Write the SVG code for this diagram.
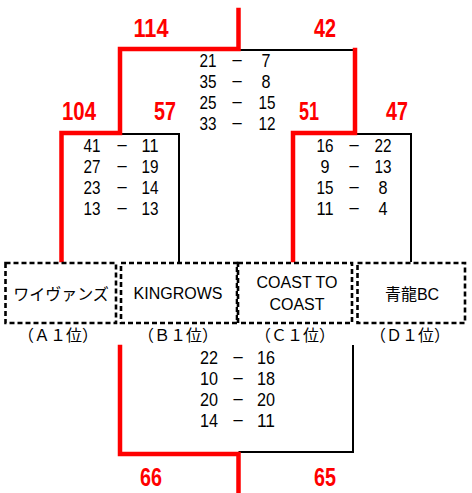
<svg xmlns="http://www.w3.org/2000/svg" width="472" height="493" viewBox="0 0 472 493">
<style>
.red{fill:none;stroke:#ff0000;stroke-width:4.5;stroke-linecap:square}
.blk{fill:none;stroke:#000;stroke-width:2}
.box{fill:#fff;stroke:#000;stroke-width:2.6;stroke-dasharray:5 3}
.sc{font-family:"Liberation Sans",Arial,sans-serif;font-size:19px;fill:#000;text-anchor:middle}
.rn{font-family:"Liberation Sans",Arial,sans-serif;font-weight:bold;font-size:26px;fill:#ff0000;text-anchor:middle}
.nm{font-family:"Liberation Sans","Noto Sans CJK JP",sans-serif;font-size:16px;fill:#000;text-anchor:middle}
.lb{font-family:"Noto Sans CJK JP",sans-serif;font-size:16px;fill:#000;text-anchor:middle}
</style>
<rect width="472" height="493" fill="#fff"/>
<g id="connectors">
<path class="blk" d="M238.5,50 H355"/>
<path class="blk" d="M120,134 H179 V262"/>
<path class="blk" d="M355,134 H411 V262"/>
<path class="blk" d="M353,345 V452 H238.5"/>
<path class="red" d="M238.5,10 V49 H120 V133 H61.5 V260"/>
<path class="red" d="M355,50 V133 H293 V260"/>
<path class="red" d="M120,347 V454 H238.5 V493"/>
</g>
<g id="scores">
<g id="score-final-top">
<text class="sc" x="208" y="67" textLength="17" lengthAdjust="spacingAndGlyphs">21</text><text class="sc" x="237" y="67">−</text><text class="sc" x="266" y="67" textLength="9" lengthAdjust="spacingAndGlyphs">7</text>
<text class="sc" x="208" y="88" textLength="17" lengthAdjust="spacingAndGlyphs">35</text><text class="sc" x="237" y="88">−</text><text class="sc" x="266" y="88" textLength="9" lengthAdjust="spacingAndGlyphs">8</text>
<text class="sc" x="208" y="109" textLength="17" lengthAdjust="spacingAndGlyphs">25</text><text class="sc" x="237" y="109">−</text><text class="sc" x="267" y="109" textLength="17" lengthAdjust="spacingAndGlyphs">15</text>
<text class="sc" x="208" y="130" textLength="17" lengthAdjust="spacingAndGlyphs">33</text><text class="sc" x="237" y="130">−</text><text class="sc" x="267" y="130" textLength="17" lengthAdjust="spacingAndGlyphs">12</text>
</g>
<g id="score-left">
<text class="sc" x="92" y="152" textLength="17" lengthAdjust="spacingAndGlyphs">41</text><text class="sc" x="122" y="152">−</text><text class="sc" x="150" y="152" textLength="17" lengthAdjust="spacingAndGlyphs">11</text>
<text class="sc" x="92" y="173" textLength="17" lengthAdjust="spacingAndGlyphs">27</text><text class="sc" x="122" y="173">−</text><text class="sc" x="150" y="173" textLength="17" lengthAdjust="spacingAndGlyphs">19</text>
<text class="sc" x="92" y="194" textLength="17" lengthAdjust="spacingAndGlyphs">23</text><text class="sc" x="122" y="194">−</text><text class="sc" x="150" y="194" textLength="17" lengthAdjust="spacingAndGlyphs">14</text>
<text class="sc" x="92" y="215" textLength="17" lengthAdjust="spacingAndGlyphs">13</text><text class="sc" x="122" y="215">−</text><text class="sc" x="150" y="215" textLength="17" lengthAdjust="spacingAndGlyphs">13</text>
</g>
<g id="score-right">
<text class="sc" x="325" y="152" textLength="17" lengthAdjust="spacingAndGlyphs">16</text><text class="sc" x="354" y="152">−</text><text class="sc" x="383" y="152" textLength="17" lengthAdjust="spacingAndGlyphs">22</text>
<text class="sc" x="325" y="173" textLength="9" lengthAdjust="spacingAndGlyphs">9</text><text class="sc" x="354" y="173">−</text><text class="sc" x="383" y="173" textLength="17" lengthAdjust="spacingAndGlyphs">13</text>
<text class="sc" x="325" y="194" textLength="17" lengthAdjust="spacingAndGlyphs">15</text><text class="sc" x="354" y="194">−</text><text class="sc" x="383" y="194" textLength="9" lengthAdjust="spacingAndGlyphs">8</text>
<text class="sc" x="325" y="215" textLength="17" lengthAdjust="spacingAndGlyphs">11</text><text class="sc" x="354" y="215">−</text><text class="sc" x="383" y="215" textLength="9" lengthAdjust="spacingAndGlyphs">4</text>
</g>
<g id="score-bottom">
<text class="sc" x="209" y="364" textLength="18" lengthAdjust="spacingAndGlyphs">22</text><text class="sc" x="238" y="364">−</text><text class="sc" x="266" y="364" textLength="18" lengthAdjust="spacingAndGlyphs">16</text>
<text class="sc" x="209" y="385" textLength="18" lengthAdjust="spacingAndGlyphs">10</text><text class="sc" x="238" y="385">−</text><text class="sc" x="266" y="385" textLength="18" lengthAdjust="spacingAndGlyphs">18</text>
<text class="sc" x="209" y="406" textLength="18" lengthAdjust="spacingAndGlyphs">20</text><text class="sc" x="238" y="406">−</text><text class="sc" x="266" y="406" textLength="18" lengthAdjust="spacingAndGlyphs">20</text>
<text class="sc" x="209" y="427" textLength="18" lengthAdjust="spacingAndGlyphs">14</text><text class="sc" x="238" y="427">−</text><text class="sc" x="266" y="427" textLength="18" lengthAdjust="spacingAndGlyphs">11</text>
</g>
</g>
<g id="totals">
<text class="rn" x="151" y="37" textLength="35" lengthAdjust="spacingAndGlyphs">114</text>
<text class="rn" x="325" y="37" textLength="22" lengthAdjust="spacingAndGlyphs">42</text>
<text class="rn" x="79" y="120" textLength="34" lengthAdjust="spacingAndGlyphs">104</text>
<text class="rn" x="165" y="120" textLength="22" lengthAdjust="spacingAndGlyphs">57</text>
<text class="rn" x="309" y="120" textLength="20" lengthAdjust="spacingAndGlyphs">51</text>
<text class="rn" x="397" y="120" textLength="22" lengthAdjust="spacingAndGlyphs">47</text>
<text class="rn" x="151" y="486" textLength="22" lengthAdjust="spacingAndGlyphs">66</text>
<text class="rn" x="325" y="486" textLength="22" lengthAdjust="spacingAndGlyphs">65</text>
</g>
<g id="team-a">
<rect class="box" x="5.5" y="263" width="110.5" height="60"/>
<text class="nm" x="61" y="300" font-family="Noto Sans CJK JP">ワイヴァンズ</text>
<text class="lb" x="58" y="341">（Ａ１位）</text>
</g>
<g id="team-b">
<rect class="box" x="121" y="263" width="116" height="60"/>
<text class="nm" x="178" y="299">KINGROWS</text>
<text class="lb" x="178" y="341">（Ｂ１位）</text>
</g>
<g id="team-c">
<rect class="box" x="238" y="263" width="114" height="60"/>
<text class="nm" x="297" y="288">COAST TO</text>
<text class="nm" x="297" y="310">COAST</text>
<text class="lb" x="295" y="341">（Ｃ１位）</text>
</g>
<g id="team-d">
<rect class="box" x="357.5" y="263" width="107.5" height="60"/>
<text class="nm" x="412" y="300">青龍BC</text>
<text class="lb" x="410" y="341">（Ｄ１位）</text>
</g>
</svg>
